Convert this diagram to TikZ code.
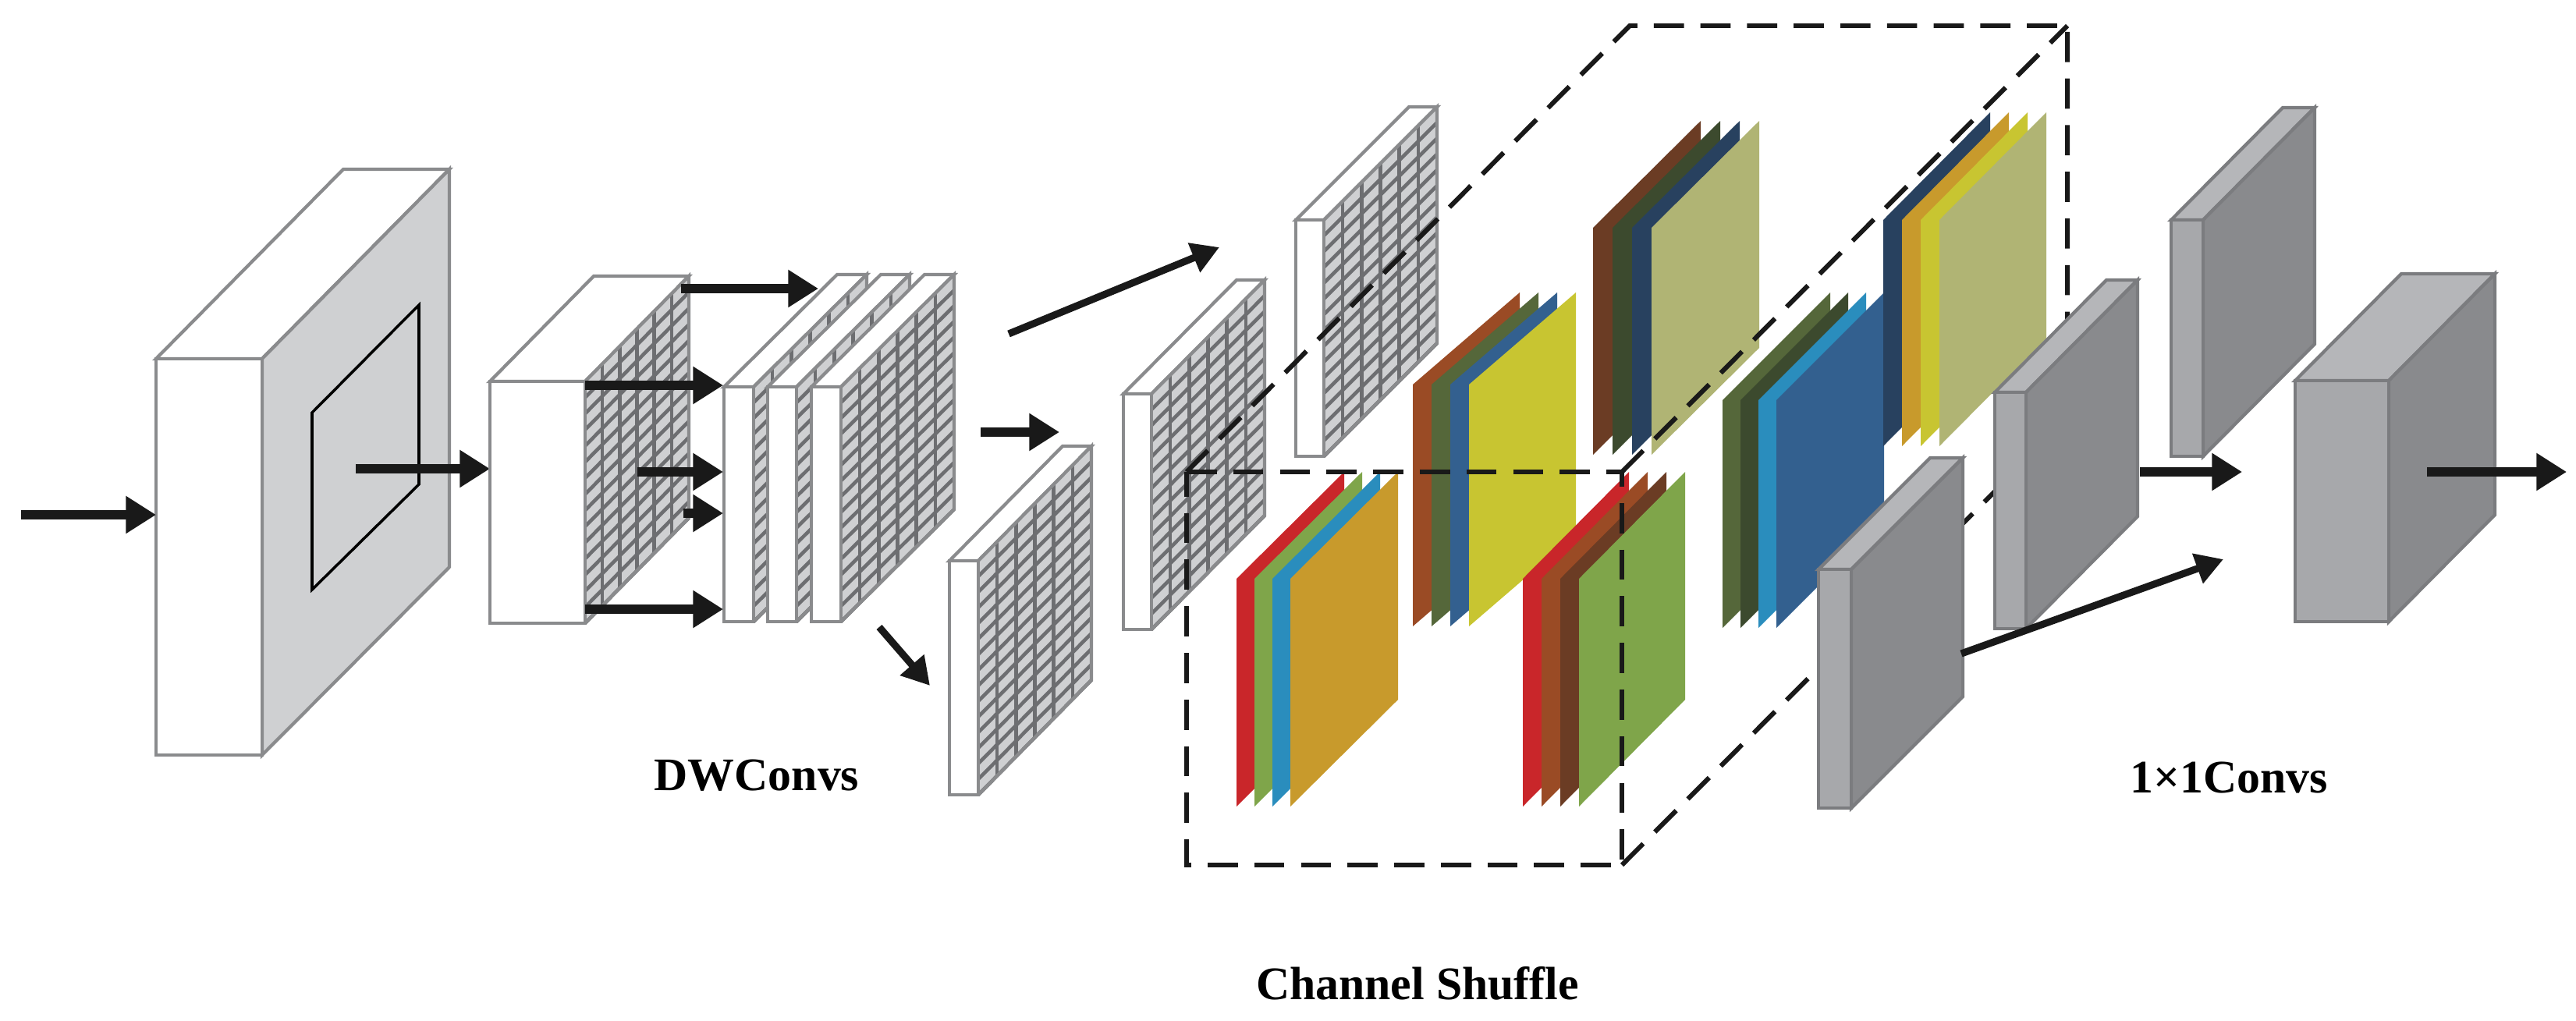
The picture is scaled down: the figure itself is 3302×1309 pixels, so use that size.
\documentclass[tikz,border=0pt]{standalone}
\usepackage{fontspec}
\setmainfont{Liberation Serif}
\usetikzlibrary{arrows.meta}
\definecolor{edgeg}{HTML}{8A8B8D}
\definecolor{lgray}{HTML}{CFD0D2}
\definecolor{gline}{HTML}{6D6E71}
\definecolor{gfront}{HTML}{A7A8AB}
\definecolor{gtop}{HTML}{B5B6B9}
\definecolor{gside}{HTML}{898A8D}
\definecolor{cred}{HTML}{C9262A}
\definecolor{cgreen}{HTML}{7FA54A}
\definecolor{cblue}{HTML}{2A8DBD}
\definecolor{corange}{HTML}{C89A2C}
\definecolor{cbrown}{HTML}{9A4B25}
\definecolor{colive}{HTML}{55673A}
\definecolor{cmblue}{HTML}{33608F}
\definecolor{cyellow}{HTML}{C8C531}
\definecolor{cdbrown}{HTML}{6B3C24}
\definecolor{cdgreen}{HTML}{3C4A2E}
\definecolor{cnavy}{HTML}{28415F}
\definecolor{ckhaki}{HTML}{B0B474}
\newcommand\gbox[8]{%
  \filldraw[edge,fill=white] (#1,#2) -- ++(#5,#6) -- ({#3+#5},{#2+#6}) -- (#3,#2) -- cycle;
  \fill[lgray] (#3,#2) -- ++(#5,#6) -- ++(0,{#4-#2}) -- (#3,#4) -- cycle;
  \foreach \i in {1,...,#7}{\draw[gridl] ({#3+\i*#5/#7},{#2+\i*#6/#7}) -- ++(0,{#4-#2});}
  \foreach \j in {1,...,#8}{\draw[gridl] (#3,{#2+\j*(#4-#2)/#8}) -- ++(#5,#6);}
  \draw[edge] (#3,#2) -- ++(#5,#6) -- ++(0,{#4-#2}) -- (#3,#4);
  \filldraw[edge,fill=white] (#1,#2) rectangle (#3,#4);
}
\newcommand\graybox[6]{%
  \filldraw[edge,fill=gtop,draw=gside!90!black] (#1,#2) -- ++(#5,#6) -- ({#3+#5},{#2+#6}) -- (#3,#2) -- cycle;
  \filldraw[edge,fill=gside,draw=gside!90!black] (#3,#2) -- ++(#5,#6) -- ++(0,{#4-#2}) -- (#3,#4) -- cycle;
  \filldraw[edge,fill=gfront,draw=gside!90!black] (#1,#2) rectangle (#3,#4);
}
\newcommand\cplane[6]{%
  \fill[#6] (#1,#3) -- (#1,#2) -- ({#1+#4},{#2-#5}) -- ({#1+#4},{#3-#5}) -- cycle;
}
\newcommand\cgroup[9]{%
  \cplane{#1-3*#6}{#2}{#3}{#4}{#5}{#7}
  \cplane{#1-2*#6}{#2}{#3}{#4}{#5}{#8}
  \cplane{#1-#6}{#2}{#3}{#4}{#5}{#9}
}
\begin{document}
\begin{tikzpicture}[x=0.01cm,y=-0.01cm,
  edge/.style={draw=edgeg,line width=1.2pt,line join=miter},
  gridl/.style={draw=gline,line width=1.3pt},
  arr/.style={line width=3.4pt,-{Triangle[length=11pt,width=13pt]},black!90},
  arrt/.style={line width=2.6pt,-{Triangle[length=10pt,width=11pt]},black!90},
  dsh/.style={draw=black!90,line width=1.7pt,dash pattern=on 11pt off 6pt},
  lbl/.style={font=\fontsize{17}{19}\selectfont\bfseries}]
\useasboundingbox (0,0) rectangle (3302,1309);
% big block
\filldraw[edge,fill=white] (200,460) -- ++(240,-243) -- (576,217) -- (336,460) -- cycle;
\filldraw[edge,fill=lgray] (336,460) -- ++(240,-243) -- (576,727) -- (336,968) -- cycle;
\filldraw[edge,fill=white] (200,460) rectangle (336,968);
\draw[line width=1pt] (400,529) -- (537,391) -- (537,621) -- (400,756) -- cycle;
\draw[arr] (27,660) -- (200,660);
\draw[arr] (456,601) -- (628,601);
% block2
\gbox{628}{489}{750}{799}{133}{-135}{6}{15}
% slabs
\gbox{928}{496}{966}{797}{145}{-144}{6}{15}
\gbox{984}{496}{1021}{797}{145}{-144}{6}{15}
\gbox{1040}{496}{1078}{797}{145}{-144}{6}{15}
\draw[arr] (873,370) -- (1049,370);
\draw[arr] (750,494) -- (927,494);
\draw[arr] (817,605) -- (927,605);
\draw[arr] (876,658) -- (927,658);
\draw[arr] (750,781) -- (927,781);
\draw[arrt] (1127,804) -- (1192,879);
\draw[arrt] (1293,428) -- (1563,317);
\draw[arr] (1257,554) -- (1358,554);
% slabs A B C
\gbox{1217}{719}{1254}{1019}{145}{-147}{6}{15}
\gbox{1440}{505}{1476}{807}{145}{-146}{6}{15}
\gbox{1661}{282}{1697}{585}{145}{-145}{6}{15}
% colour groups
\cgroup{1654}{742}{1034}{138}{137}{23}{cred}{cgreen}{cblue}\cplane{1654}{742}{1034}{138}{137}{corange}
\cgroup{1883}{493}{803}{137}{118}{24}{cbrown}{colive}{cmblue}\cplane{1883}{493}{803}{137}{118}{cyellow}
\cgroup{2117}{292}{583}{138}{137}{25}{cdbrown}{cdgreen}{cnavy}\cplane{2117}{292}{583}{138}{137}{ckhaki}
\cgroup{2024}{742}{1034}{136}{137}{24}{cred}{cbrown}{cdbrown}\cplane{2024}{742}{1034}{136}{137}{cgreen}
\cgroup{2277}{513}{805}{138}{138}{23}{colive}{cdgreen}{cblue}\cplane{2277}{513}{805}{138}{138}{cmblue}
\cgroup{2486}{282}{572}{137}{138}{24}{cnavy}{corange}{cyellow}\cplane{2486}{282}{572}{137}{138}{ckhaki}
% dashed cube
\coordinate (fa) at (1521,605); \coordinate (fb) at (2079,605);
\coordinate (fc) at (2079,1109); \coordinate (fd) at (1521,1109);
\coordinate (ba) at (2089,33); \coordinate (bb) at (2650,33); \coordinate (bc) at (2650,537);
\draw[dsh] (fa) -- (fb) -- (fc) -- (fd) -- cycle;
\draw[dsh] (fa) -- (ba) -- (bb) -- (bc);
\draw[dsh] (fb) -- (bb);
\draw[dsh] (fc) -- (bc);
% gray blocks
\graybox{2331}{730}{2373}{1036}{143}{-143}
\graybox{2557}{503}{2597}{806}{143}{-144}
\graybox{2783}{282}{2824}{585}{143}{-144}
\graybox{2942}{488}{3062}{797}{136}{-137}
\draw[arr] (2743,605) -- (2874,605);
\draw[arrt] (2514,838) -- (2850,717);
\draw[arr] (3111,605) -- (3290,605);
% labels
\node[lbl] (dw) at (970,994) {DWConvs};
\node[lbl] (cc) at (2857,997) {1×1Convs};
\node[lbl] (cs) at (1817,1261) {Channel Shuffle};
\end{tikzpicture}
\end{document}
